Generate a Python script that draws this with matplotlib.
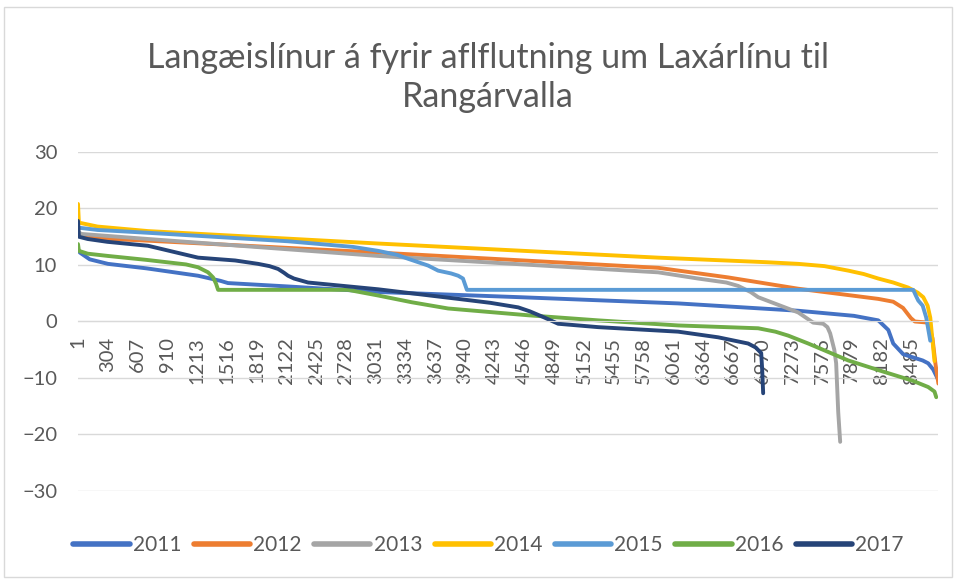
import matplotlib.pyplot as plt
from matplotlib.patches import Rectangle

plt.rcParams['font.family'] = ['Lato', 'DejaVu Sans']

# hours (sorted duration) and MW values, one pair of lists per year
h2011 = [1, 20, 120, 306, 700, 1223, 1450, 1528, 2139, 3086, 4500, 6111, 7333, 7900, 8148,
         8250, 8300, 8402, 8600, 8656, 8707, 8760]
v2011 = [12.8, 12.2, 11.0, 10.2, 9.4, 8.1, 7.2, 6.8, 6.2, 5.2, 4.3, 3.2, 1.9, 1.0, 0.2,
         -1.5, -3.9, -5.8, -6.9, -7.4, -8.5, -10.4]

h2012 = [1, 20, 200, 714, 3056, 5907, 6620, 7333, 8148, 8300, 8400, 8480, 8520, 8656, 8700,
         8730, 8760]
v2012 = [15.8, 15.3, 14.7, 14.3, 12.2, 9.5, 7.8, 5.8, 4.0, 3.5, 2.4, 0.6, 0.0, -0.2, -3.0,
         -7.5, -11.0]

h2013 = [1, 30, 714, 3056, 5907, 6314, 6600, 6721, 6850, 6925, 7333, 7485, 7587, 7630, 7658,
         7700, 7719, 7740, 7760]
v2013 = [16.0, 15.5, 14.6, 11.6, 8.7, 7.6, 6.9, 6.3, 5.2, 4.3, 1.6, -0.2, -0.4, -1.0, -2.1,
         -5.0, -7.4, -16.0, -21.3]

h2014 = [1, 10, 200, 714, 3056, 5907, 7000, 7333, 7600, 7843, 8000, 8148, 8300, 8453, 8550,
         8606, 8650, 8677, 8720]
v2014 = [20.8, 17.5, 16.8, 16.0, 13.8, 11.3, 10.5, 10.2, 9.8, 9.0, 8.4, 7.6, 6.9, 6.0, 5.1,
         4.3, 2.8, 0.7, -7.0]

h2015 = [1, 10, 200, 714, 2139, 2800, 3056, 3250, 3361, 3565, 3667, 3800, 3871, 3920, 3940,
         3960, 8504, 8530, 8555, 8600, 8636, 8677]
v2015 = [17.0, 16.6, 16.2, 15.7, 14.2, 13.2, 12.5, 11.8, 11.1, 9.9, 9.0, 8.5, 8.1, 7.6, 6.6,
         5.6, 5.6, 4.6, 3.7, 2.8, 0.7, -3.4]

h2016 = [1, 10, 100, 306, 700, 1100, 1223, 1325, 1376, 1406, 1427, 2750, 3056, 3400, 3769,
         4583, 5296, 6111, 6925, 7100, 7231, 7435, 7843, 8148, 8500, 8656, 8720, 8738]
v2016 = [13.7, 12.5, 12.0, 11.6, 10.9, 10.1, 9.6, 8.7, 7.8, 6.7, 5.6, 5.6, 4.6, 3.4, 2.3,
         1.1, 0.2, -0.7, -1.2, -1.8, -2.5, -3.9, -6.9, -8.6, -10.5, -11.6, -12.4, -13.4]

h2017 = [1, 10, 100, 300, 714, 1223, 1600, 1834, 1950, 2038, 2100, 2139, 2200, 2343, 3056,
         3871, 4200, 4482, 4600, 4736, 4889, 5296, 6111, 6518, 6823, 6900, 6956, 6966, 6976]
v2017 = [17.8, 15.0, 14.6, 14.1, 13.4, 11.3, 10.8, 10.2, 9.8, 9.3, 8.6, 8.1, 7.6, 6.9, 5.7,
         4.0, 3.3, 2.5, 1.8, 0.8, -0.4, -1.0, -1.8, -2.8, -3.9, -4.6, -5.6, -8.5, -12.7]

years = ['2011', '2012', '2013', '2014', '2015', '2016', '2017']
colors = ['#4472C4', '#ED7D31', '#A5A5A5', '#FFC000', '#5B9BD5', '#70AD47', '#264478']
xticks = list(range(1, 8761, 303))
yticks = [-30, -20, -10, 0, 10, 20, 30]

fig = plt.figure(figsize=(9.56, 5.79), dpi=100)
ax = fig.add_axes([0.0816, 0.152, 0.9, 0.5855])

series = [(h2011, v2011), (h2012, v2012), (h2013, v2013), (h2014, v2014),
          (h2015, v2015), (h2016, v2016), (h2017, v2017)]
for (h, v), yr, c in zip(series, years, colors):
    ax.plot(h, v, color=c, lw=2.8, label=yr, solid_capstyle='round', solid_joinstyle='round')

ax.set_xlim(1, 8760)
ax.set_ylim(-30, 30)
ax.set_yticks(yticks)
ax.set_xticks(xticks)
ax.set_xticklabels([str(t) for t in xticks])
ax.grid(axis='y', color='#D9D9D9', lw=1)
ax.set_axisbelow(True)
for s in ['top', 'right', 'left']:
    ax.spines[s].set_visible(False)
ax.spines['bottom'].set_position(('data', 0))
ax.spines['bottom'].set_color('#D9D9D9')
ax.tick_params(axis='both', length=0, colors='#595959', labelsize=14.5)
ax.tick_params(axis='y', pad=15)
ax.tick_params(axis='x', pad=11, labelrotation=90)

fig.text(0.51, 0.866, 'Langæislínur á fyrir aflflutning um Laxárlínu til\nRangárvalla',
         ha='center', va='center', fontsize=24.5, color='#595959', linespacing=1.3)

leg = ax.legend(loc='center', bbox_to_anchor=(0.511, 0.059), bbox_transform=fig.transFigure,
                ncol=7, frameon=False, fontsize=15, handlelength=2.7, columnspacing=0.6,
                handletextpad=0.15)
for t in leg.get_texts():
    t.set_color('#595959')
for l in leg.get_lines():
    l.set_linewidth(4)

fig.patches.append(Rectangle((0.004, 0.003), 0.992, 0.985, transform=fig.transFigure,
                             fill=False, edgecolor='#D9D9D9', lw=1))

fig.savefig('out.png', dpi=100)
